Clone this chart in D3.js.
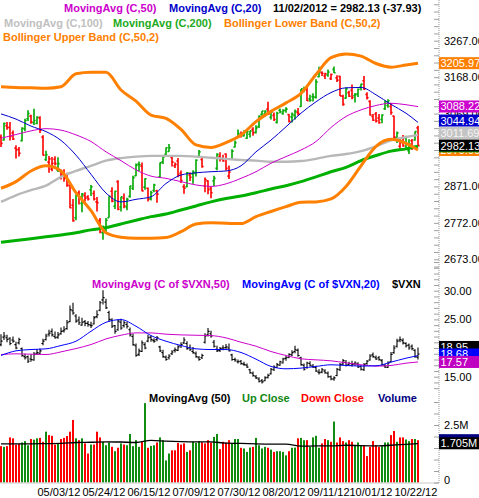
<!DOCTYPE html>
<html>
<head>
<meta charset="utf-8">
<script src="https://cdn.jsdelivr.net/npm/d3@7"></script>
<style>
  body { margin: 0; background: #fff; overflow: hidden; }
  svg { display: block; font-family: "Liberation Sans", Arial, sans-serif; }
</style>
</head>
<body>
<svg id="chart" width="479" height="498"></svg>
<script>
// ---- data ----
// trading days 04/16/12 .. 11/02/12 (market closed on these)
const holidays = ["2012-05-28", "2012-07-04", "2012-09-03", "2012-10-29", "2012-10-30"];
const dateTicks = ["05/03/12", "05/24/12", "06/15/12", "07/09/12", "07/30/12", "08/20/12", "09/11/12", "10/01/12", "10/22/12"];
const priceTicks = [2673, 2772, 2871, 2970, 3069, 3168, 3267];
const vxnTicks = [15, 20, 25, 30];
const volTicks = [0, 2.5];

const prevClose = 3011;
// [open, high, low, close]
const priceBars = [
  [3005,3012,2978,2988],[2997,3045,2995,3042],[3036,3046,3025,3031],[3031,3046,2996,3007],[3016,3023,2997,3000],
  [2975,2983,2947,2970],[2972,2978,2952,2961],[2995,3032,2993,3029],[3027,3055,3021,3050],[3055,3078,3049,3069],
  [3062,3066,3041,3046],[3044,3082,3038,3050],[3042,3062,3040,3059],[3057,3062,3016,3024],[3005,3010,2955,2956],
  [2944,2968,2940,2957],[2937,2954,2908,2946],[2918,2951,2912,2934],[2945,2953,2928,2933],[2915,2950,2910,2933],
  [2912,2917,2890,2902],[2901,2918,2884,2893],[2901,2908,2870,2874],[2874,2876,2812,2813],[2820,2837,2775,2778],
  [2786,2849,2779,2847],[2853,2860,2822,2839],[2825,2853,2801,2850],[2846,2855,2830,2839],[2843,2847,2833,2837],
  [2862,2875,2845,2870],[2852,2860,2833,2837],[2829,2842,2803,2827],[2778,2785,2744,2747],[2745,2765,2726,2760],
  [2752,2785,2748,2779],[2786,2844,2786,2844],[2858,2869,2828,2831],[2817,2859,2810,2858],[2884,2888,2806,2809],
  [2815,2843,2803,2843],[2839,2852,2812,2818],[2815,2840,2806,2836],[2844,2873,2840,2872],[2866,2900,2861,2895],
  [2900,2933,2899,2929],[2932,2939,2912,2930],[2926,2936,2858,2859],[2869,2893,2862,2892],[2866,2868,2830,2836],
  [2838,2859,2833,2854],[2860,2878,2855,2875],[2859,2862,2827,2850],[2897,2936,2895,2935],[2938,2955,2932,2951],
  [2958,2977,2955,2976],[2966,2986,2965,2976],[2950,2955,2925,2937],[2927,2936,2921,2931],[2940,2948,2896,2902],
  [2907,2914,2880,2887],[2870,2877,2851,2866],[2870,2910,2869,2908],[2902,2909,2886,2896],[2905,2915,2878,2910],
  [2906,2945,2898,2942],[2952,2970,2948,2965],[2944,2948,2922,2925],[2873,2895,2855,2890],[2886,2888,2850,2862],
  [2866,2870,2839,2854],[2886,2900,2872,2893],[2920,2961,2915,2958],[2953,2964,2939,2945],[2945,2957,2938,2940],
  [2959,2961,2914,2920],[2899,2928,2891,2910],[2945,2972,2943,2967],[2978,2996,2977,2990],[3004,3026,3003,3015],
  [3006,3020,3004,3011],[3008,3024,3007,3018],[3002,3021,3000,3020],[3013,3022,3004,3022],[3026,3032,3009,3017],
  [3018,3037,3015,3030],[3034,3064,3030,3062],[3067,3076,3063,3076],[3068,3078,3061,3076],[3081,3101,3066,3067],
  [3059,3078,3053,3073],[3064,3072,3049,3053],[3045,3074,3042,3070],[3078,3083,3070,3074],[3069,3081,3066,3077],
  [3078,3086,3071,3081],[3066,3068,3045,3048],[3060,3072,3045,3067],[3063,3080,3053,3075],[3072,3084,3064,3069],
  [3088,3136,3087,3136],[3133,3142,3127,3136],[3134,3141,3103,3104],[3109,3120,3101,3105],[3115,3124,3102,3114],
  [3113,3162,3110,3155],[3169,3196,3168,3183],[3180,3184,3171,3178],[3171,3180,3163,3177],[3174,3189,3169,3182],
  [3164,3178,3160,3175],[3189,3197,3179,3180],[3166,3173,3155,3160],[3170,3172,3117,3117],[3116,3120,3090,3094],
  [3111,3140,3109,3136],[3126,3131,3114,3116],[3132,3148,3108,3113],[3118,3125,3099,3120],[3123,3137,3114,3135],
  [3141,3150,3132,3149],[3158,3171,3133,3136],[3121,3127,3107,3112],[3102,3105,3064,3065],[3061,3068,3049,3051],
  [3068,3073,3045,3049],[3057,3068,3041,3044],[3053,3067,3043,3065],[3082,3104,3079,3101],[3091,3108,3085,3104],
  [3088,3098,3066,3072],[3062,3063,2999,3005],[3003,3020,2989,3016],[2980,3002,2970,2990],[3002,3011,2979,2981],
  [3003,3009,2975,2986],[2968,2999,2959,2987],[2995,3000,2970,2977],[2997,3020,2995,3020],[3030,3036,2980,2982]
];

// $VXN [open, high, low, close]
const vxnBars = [
  [20.6,22.4,20.3,21.2],[21.9,22.8,21.4,22.1],[21.8,22.3,21.0,21.5],[21.7,21.9,20.5,20.8],[21.4,22.0,20.9,21.2],
  [20.6,21.1,19.8,20.0],[20.9,21.8,20.6,21.5],[19.9,20.1,18.5,18.7],[18.5,19.0,18.0,18.3],[18.5,18.7,17.4,17.7],
  [18.1,18.9,17.6,18.0],[17.9,19.3,17.8,18.9],[19.1,19.8,18.8,19.2],[19.0,19.9,18.9,19.5],[20.8,21.6,20.5,21.2],
  [21.5,22.5,21.3,22.1],[22.4,23.2,22.0,22.6],[22.9,23.4,22.0,22.3],[22.0,22.9,21.6,21.8],[21.9,22.8,21.6,22.3],
  [22.5,23.6,22.3,22.9],[23.0,23.8,22.7,23.2],[23.4,24.9,23.2,24.4],[24.6,27.4,24.5,26.7],[26.5,27.9,25.8,26.1],
  [25.6,25.9,24.4,24.7],[24.9,25.5,24.0,24.4],[24.0,25.3,23.9,24.5],[24.6,24.9,23.8,24.3],[24.3,24.7,23.7,24.1],
  [24.0,24.6,23.5,23.9],[24.2,25.6,24.1,25.3],[25.5,26.6,25.2,25.8],[26.6,28.2,26.4,27.9],[28.4,30.1,27.6,28.8],
  [28.0,28.6,26.8,27.0],[26.2,26.5,24.6,25.0],[24.9,25.2,23.5,23.8],[23.9,24.0,22.5,22.9],[23.2,25.0,23.0,24.7],
  [24.5,25.1,23.2,23.5],[23.9,24.8,23.6,24.4],[24.1,24.6,23.4,23.8],[23.2,23.6,22.0,22.3],[22.0,22.5,20.4,20.6],
  [20.4,20.8,18.5,18.7],[18.9,19.9,18.6,19.5],[19.4,21.3,19.3,20.9],[20.6,21.0,19.8,20.0],[21.2,22.3,21.0,21.8],
  [21.9,22.2,21.1,21.5],[21.3,21.7,20.9,21.2],[21.5,22.1,21.2,21.8],[20.2,20.4,19.3,19.5],[19.2,19.7,18.3,18.5],
  [18.4,18.7,17.8,18.0],[18.3,18.9,18.0,18.6],[19.0,19.6,18.8,19.3],[19.6,20.1,19.2,19.7],[19.6,20.5,19.5,20.2],
  [20.4,21.0,20.0,20.6],[20.9,21.9,20.7,21.4],[20.8,21.2,19.7,19.9],[20.1,20.6,19.5,19.7],[19.4,20.2,19.0,19.2],
  [19.0,19.4,18.3,18.5],[18.3,18.6,17.8,18.0],[18.3,19.0,18.1,18.7],[21.0,22.6,20.8,22.1],[22.3,23.5,22.0,22.9],
  [22.5,23.0,21.8,22.1],[21.0,21.4,20.1,20.3],[19.8,20.4,19.3,19.5],[19.6,20.2,19.3,19.9],[20.0,20.5,19.6,20.0],
  [20.1,20.7,19.8,20.2],[20.0,20.8,19.4,19.5],[18.8,19.0,17.8,18.0],[18.0,18.3,17.6,17.9],[17.6,18.0,17.3,17.6],
  [17.7,17.9,17.1,17.3],[17.2,17.6,16.9,17.1],[17.0,17.3,16.5,16.7],[16.2,16.4,15.5,15.7],[15.6,15.9,15.0,15.2],
  [15.0,15.3,14.6,14.8],[14.6,14.9,14.0,14.2],[14.3,14.6,13.8,14.1],[14.3,15.1,14.2,14.8],[14.9,15.5,14.7,15.2],
  [15.5,16.5,15.4,16.3],[16.2,17.0,16.0,16.7],[16.6,17.4,16.5,17.1],[17.0,17.8,16.9,17.6],[17.4,18.3,17.3,18.1],
  [18.2,18.6,17.8,18.3],[18.4,19.1,18.2,18.9],[18.8,19.6,18.6,19.2],[19.4,20.4,19.1,19.7],[19.6,19.9,18.5,18.7],
  [18.3,18.5,16.9,17.1],[17.0,17.3,16.1,16.3],[16.6,17.6,16.4,17.4],[17.3,17.7,16.8,17.0],[16.8,17.2,16.5,16.7],
  [16.6,16.9,15.8,16.0],[15.8,16.3,15.4,15.7],[15.8,16.5,15.6,16.2],[16.0,16.3,15.5,15.7],[15.6,15.9,14.8,15.0],
  [15.0,15.2,14.4,14.6],[14.6,15.1,14.3,14.8],[15.2,16.5,15.1,16.3],[16.2,17.4,16.0,17.1],[17.2,18.1,17.0,17.8],
  [17.5,17.9,16.8,17.0],[17.1,17.6,16.9,17.3],[17.0,17.8,16.8,17.1],[17.3,17.7,16.9,17.4],[17.2,17.5,16.5,16.7],
  [16.8,17.0,16.1,16.3],[16.2,17.4,16.0,17.1],[17.3,17.9,17.1,17.7],[17.9,18.9,17.8,18.6],[18.8,19.2,18.3,18.5],
  [18.3,18.7,17.9,18.1],[18.3,18.6,17.8,18.0],[17.8,18.1,16.9,17.1],[16.9,17.2,16.5,16.7],[16.6,17.7,16.5,17.4],
  [17.6,19.3,17.5,18.9],[19.2,20.5,19.0,20.0],[20.3,21.6,20.1,21.2],[21.4,22.0,21.0,21.5],[21.3,21.7,20.6,20.9],
  [20.8,21.0,20.1,20.4],[20.5,20.8,19.7,20.0],[20.3,20.6,19.6,19.9],[19.6,19.8,18.3,18.5],[18.4,20.1,18.0,18.95]
];

// volume, in the axis units ("M")
const volume = [
  1.58,1.55,1.58,1.96,1.92,1.65,1.68,1.74,1.80,1.62,1.89,1.86,1.92,1.94,1.77,2.21,2.06,2.03,1.65,1.70,
  1.89,1.94,2.02,2.21,2.72,1.92,1.84,1.92,1.70,1.26,1.65,1.65,2.21,1.96,1.77,1.62,1.74,1.55,1.36,1.51,
  1.70,1.65,1.62,2.11,1.58,1.84,1.55,1.77,3.45,1.51,1.59,1.62,1.74,1.96,1.84,0.96,1.26,1.40,1.40,1.72,
  1.65,1.70,1.33,1.40,1.77,1.72,1.80,1.75,1.70,1.84,1.74,1.98,2.11,1.45,1.77,1.74,1.84,1.70,1.89,1.89,
  1.51,1.48,1.33,1.52,1.55,1.94,1.62,1.48,1.55,1.51,1.43,1.33,1.36,1.36,1.33,1.18,1.36,1.51,1.52,1.92,
  1.94,1.84,1.84,1.55,1.96,2.03,1.51,1.70,1.89,1.84,1.77,2.65,1.74,1.96,1.80,1.74,1.84,1.77,1.59,1.74,
  1.62,1.59,1.15,1.55,1.80,1.62,1.55,1.58,1.74,1.74,2.06,2.24,1.77,1.96,1.96,1.87,1.80,1.89,1.89,1.84
];

// overlay lines, read at these bar positions
const lineIdx = [0,5,10,15,20,25,30,35,40,45,50,55,60,65,70,75,80,85,90,95,100,105,110,115,120,125,130,135,139];
const ma20    = [3068,3054,3035,3020,2996,2956,2904,2853,2829,2836,2843,2879,2902,2908,2911,2913,2927,2965,2997,3033,3070,3101,3126,3139,3140,3120,3094,3070,3045];
const ma50    = [3002,3012,3022,3028,3024,3011,2993,2965,2941,2916,2899,2893,2884,2875,2871,2878,2893,2911,2934,2952,2970,2993,3031,3061,3079,3091,3097,3093,3088];
const ma100   = [2829,2847,2861,2873,2897,2913,2927,2941,2948,2952,2954,2954,2954,2952,2949,2946,2943,2941,2938,2938,2940,2946,2954,2959,2967,2980,2996,3005,3011];
const ma200   = [2719,2724,2729,2734,2739,2745,2753,2759,2769,2779,2789,2796,2807,2818,2829,2838,2845,2854,2864,2873,2884,2897,2911,2923,2941,2955,2967,2973,2980];
const bbUpper = [3142,3140,3139,3138,3142,3177,3181,3181,3133,3103,3065,3056,3026,2984,2977,2990,3011,3047,3075,3098,3124,3175,3221,3231,3225,3205,3195,3201,3206];
const bbLower = [2866,2884,2913,2927,2913,2854,2805,2745,2733,2730,2730,2732,2748,2769,2772,2771,2770,2789,2803,2816,2828,2829,2837,2871,2927,2980,2999,2988,2970];
const vxnMa20 = [18.70,19.51,19.74,19.86,20.44,21.19,22.93,24.49,24.96,23.80,22.17,21.19,20.44,19.86,19.74,19.74,19.22,18.06,16.79,16.38,16.50,16.79,17.08,16.96,16.85,16.90,17.54,18.23,18.68];
const vxnMa50 = [18.87,18.99,18.93,18.87,19.33,19.91,20.61,21.59,22.23,22.64,22.64,22.41,22.29,22.23,22.17,21.77,21.01,20.32,19.39,18.70,18.12,17.94,17.77,17.42,17.08,16.84,16.96,17.36,17.57];
const volMa50 = [1.68,1.68,1.68,1.69,1.70,1.74,1.75,1.77,1.76,1.74,1.83,1.80,1.78,1.77,1.77,1.71,1.70,1.68,1.67,1.67,1.58,1.59,1.59,1.62,1.60,1.59,1.62,1.66,1.69];

// last values shown in the boxes on the right
const priceLast = [2982.13, -37.93];
const priceLineLast = [3205.97, 3088.22, 3044.94, 3011.69];   // upper BB, MA50, MA20, MA100
const vxnLast = [18.95, 18.68, 17.57];                      // close, MA20, MA50
const volLast = 1.705;

// ---- colours ----
const cMag = "#cc00cc", cBlue = "#0000cc", cGray = "#c0c0c0", cGreen = "#00b000",
      cOrange = "#ff8000", cUp = "#00a800", cDown = "#ff0000", cVolUp = "#108c10";

const svg = d3.select("#chart");
const axisX = 439;

const fmtDay = d3.timeFormat("%Y-%m-%d"), fmtTick = d3.timeFormat("%m/%d/%y");
const dates = d3.timeDay.range(new Date(2012, 3, 16), new Date(2012, 10, 3))
  .filter(d => d.getDay() !== 0 && d.getDay() !== 6 && !holidays.includes(fmtDay(d)));

const x = d3.scalePoint().domain(d3.range(dates.length)).range([1, 418]);
const yPrice = d3.scaleLinear().domain([2673, 3267]).range([259.3, 40.7]);
const yVxn = d3.scaleLinear().domain([15, 30]).range([376.7, 290.7]);
const yVol = d3.scaleLinear().domain([0, 2.5]).range([482.5, 425]);

const upDay = priceBars.map((b, i) => b[3] >= (i ? priceBars[i - 1][3] : prevClose));

class ValueLabel {
    constructor(parent, y, text, fill, color) {
        this.parent = parent;
        this.y = y;
        this.txt = text;
        this.fill = fill;
        this.color = color || "#fff";
        this.draw();
    }
    draw() {
        var vis = this;
        vis.g = d3.select(vis.parent).append("g");
        vis.g.append("rect")
            .attr("x", axisX).attr("y", vis.y - 6)
            .attr("width", 45).attr("height", 12)
            .attr("fill", vis.fill);
        vis.g.append("text")
            .attr("x", axisX + 1.5).attr("y", vis.y + 4)
            .attr("fill", vis.color)
            .attr("font-size", 11)
            .text(vis.txt);
    }
}

function ohlcPath(y) {
    return (b, i) => {
        const xi = x(i);
        return `M${xi},${y(b[1])}V${y(b[2])}M${xi - 1.6},${y(b[0])}H${xi}M${xi},${y(b[3])}H${xi + 1.6}`;
    };
}

function drawLine(vals, y, color, width) {
    svg.append("path").datum(vals)
        .attr("fill", "none")
        .attr("stroke", color)
        .attr("stroke-width", width)
        .attr("stroke-linejoin", "round")
        .attr("d", d3.line().x((d, k) => x(lineIdx[k])).y(d => y(d)).curve(d3.curveMonotoneX));
}

function legend(items, y) {
    items.forEach(it => {
        svg.append("text").attr("x", it[2]).attr("y", y)
            .attr("font-size", 11).attr("font-weight", "bold")
            .attr("fill", it[1]).text(it[0]);
    });
}

// ---- price panel ----
svg.append("g").selectAll("path").data(priceBars).join("path")
    .attr("d", ohlcPath(yPrice))
    .attr("fill", "none")
    .attr("stroke", (b, i) => upDay[i] ? cUp : cDown)
    .attr("stroke-width", 1.6);

drawLine(ma100, yPrice, "#b8b8b8", 2.4);
drawLine(ma200, yPrice, cGreen, 3);
drawLine(bbLower, yPrice, cOrange, 3);
drawLine(bbUpper, yPrice, cOrange, 3);
drawLine(ma50, yPrice, cMag, 1);
drawLine(ma20, yPrice, cBlue, 1);

legend([["MovingAvg (C,50)", cMag, 64], ["MovingAvg (C,20)", cBlue, 169],
        [`11/02/2012 = ${priceLast[0].toFixed(2)} (${priceLast[1].toFixed(2)})`, "#000", 273]], 12);
legend([["MovingAvg (C,100)", cGray, 4], ["MovingAvg (C,200)", "#22aa22", 113],
        ["Bollinger Lower Band (C,50,2)", cOrange, 224]], 26.5);
legend([["Bollinger Upper Band (C,50,2)", cOrange, 3]], 40.5);

// ---- VXN panel ----
svg.append("g").selectAll("path").data(vxnBars).join("path")
    .attr("d", ohlcPath(yVxn))
    .attr("fill", "none")
    .attr("stroke", "#000")
    .attr("stroke-width", 1.1);

drawLine(vxnMa50, yVxn, cMag, 1);
drawLine(vxnMa20, yVxn, "#0000ff", 1);

legend([["MovingAvg (C of $VXN,50)", cMag, 92], ["MovingAvg (C of $VXN,20)", "#0000ff", 242],
        ["$VXN", "#000", 392]], 288);

// ---- volume panel ----
svg.append("g").selectAll("rect").data(volume).join("rect")
    .attr("x", (v, i) => x(i) - 1)
    .attr("y", v => yVol(v))
    .attr("width", 2)
    .attr("height", v => yVol(0) - yVol(v))
    .attr("fill", (v, i) => upDay[i] ? cVolUp : cDown);

drawLine(volMa50, yVol, "#000", 1.3);

legend([["MovingAvg (50)", "#000", 149], ["Up Close", "#118811", 242],
        ["Down Close", cDown, 301], ["Volume", "#000080", 378]], 402);

svg.append("line")
    .attr("x1", 0).attr("x2", axisX).attr("y1", 483).attr("y2", 483)
    .attr("stroke", "#c8c8c8");

// ---- right axis ----
svg.append("line")
    .attr("x1", axisX).attr("x2", axisX).attr("y1", 0).attr("y2", 484)
    .attr("stroke", "#999").attr("stroke-dasharray", "1,1");

function minorTicks(scale, values) {
    svg.append("g").attr("transform", `translate(${axisX},0)`)
        .call(d3.axisLeft(scale).tickValues(values).tickSize(5).tickFormat(""))
        .call(g => g.select(".domain").remove())
        .selectAll("line").attr("stroke", "#a0a0a0");
}
minorTicks(yPrice, d3.range(2653.2, 3370, 19.8));
minorTicks(yVxn, d3.range(13, 35.5, 1));
minorTicks(yVol, d3.range(0, 3.6, 0.5));

function valueAxis(scale, values, fmt) {
    const g = svg.append("g").attr("transform", `translate(${axisX},0)`)
        .call(d3.axisRight(scale).tickValues(values).tickSize(0).tickPadding(5).tickFormat(fmt))
        .call(g => g.select(".domain").remove());
    g.selectAll("text")
        .attr("font-family", "Liberation Sans, Arial, sans-serif")
        .attr("font-size", 11)
        .attr("fill", "#000");
    return g;
}
valueAxis(yPrice, priceTicks, d => d.toFixed(2));
valueAxis(yVxn, vxnTicks, d => d.toFixed(2));
const volAxis = valueAxis(yVol, volTicks, d => d === 0 ? "0" : d + "M");
// bottom label sits a little above the baseline
volAxis.selectAll("text").filter(d => d === 0).attr("dy", "0.05em");

// date labels
const tickIdx = dateTicks.map(t => dates.findIndex(d => fmtTick(d) === t));
svg.append("g").attr("transform", "translate(0,483)")
    .call(d3.axisBottom(x).tickValues(tickIdx).tickSize(0).tickPadding(5).tickFormat(i => fmtTick(dates[i])))
    .call(g => g.select(".domain").remove())
    .selectAll("text")
    .attr("text-anchor", "start")
    .attr("dx", -3)
    .attr("font-family", "Liberation Sans, Arial, sans-serif")
    .attr("font-size", 11)
    .attr("fill", "#000");

// ---- value boxes ----
const labelLayer = svg.append("g").node();
function stack(ys, gap) {
    const out = ys.slice();
    for (let k = 1; k < out.length; k++) out[k] = Math.min(out[k], out[k - 1] - gap);
    return out;
}

const lastIdx = lineIdx.length - 1;
new ValueLabel(labelLayer, yPrice(bbLower[lastIdx]), bbLower[lastIdx].toFixed(2), cOrange);
new ValueLabel(labelLayer, yPrice(ma200[lastIdx]), ma200[lastIdx].toFixed(2), cGreen);
// price, MA100, MA20, MA50, upper BB from the bottom up
const pY = stack([priceLast[0], priceLineLast[3], priceLineLast[2], priceLineLast[1], priceLineLast[0]].map(yPrice), 12.5);
new ValueLabel(labelLayer, pY[4], priceLineLast[0].toFixed(2), cOrange);
new ValueLabel(labelLayer, pY[3], priceLineLast[1].toFixed(2), cMag);
new ValueLabel(labelLayer, pY[2], priceLineLast[2].toFixed(2), cBlue);
new ValueLabel(labelLayer, pY[1], priceLineLast[3].toFixed(2), "#c4c4c4", "#f4f4f4");
new ValueLabel(labelLayer, pY[0], priceLast[0].toFixed(2), "#000");

const vY = stack([vxnLast[2], vxnLast[1], vxnLast[0]].map(yVxn), 7.5);
new ValueLabel(labelLayer, vY[2], vxnLast[0].toFixed(2), "#000");
new ValueLabel(labelLayer, vY[1], vxnLast[1].toFixed(2), "#0000ff");
new ValueLabel(labelLayer, vY[0], vxnLast[2].toFixed(2), "#c000c0");

new ValueLabel(labelLayer, yVol(volume[volume.length - 1]), "", "#000080");
new ValueLabel(labelLayer, yVol(volLast), volLast.toFixed(3) + "M", "#000");
</script>
</body>
</html>
